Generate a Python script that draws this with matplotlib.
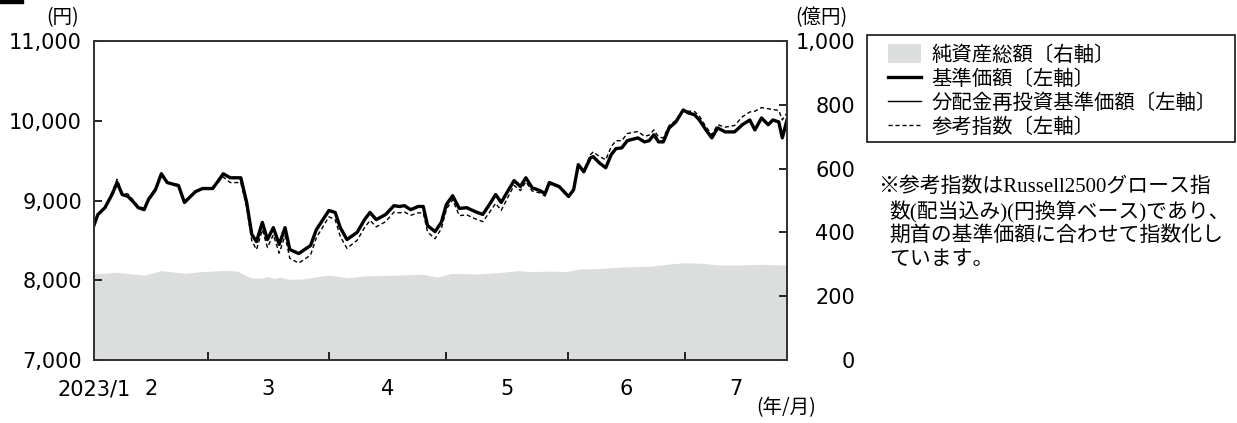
import matplotlib
matplotlib.use('Agg')
import matplotlib.pyplot as plt
from matplotlib.lines import Line2D
from matplotlib.patches import Patch, Rectangle

plt.rcParams['font.family'] = ['Noto Sans CJK JP', 'DejaVu Sans']

W, H = 1237, 423


def fx(x):
    return x / W


def fy(y):
    return 1 - y / H


# 期首(2023/1末)からの経過日数
days = [0, 1.0, 2.8, 4.6, 5.9, 7.2, 8.7, 10.0, 11.3, 12.8,
        13.9, 15.7, 17.2, 18.7, 21.6, 23.1, 25.9, 27.7, 30.3, 32.3,
        33.0, 34.8, 37.5, 39.0, 40.3, 41.5, 43.0, 44.3, 45.8, 47.3,
        48.8, 50.0, 52.3, 55.3, 56.8, 60.0, 61.6, 62.9, 64.6, 67.2,
        69.1, 70.5, 72.1, 74.5, 76.6, 78.0, 79.3, 80.9, 82.8, 84.1,
        85.2, 87.1, 88.7, 90.0, 91.6, 93.3, 95.2, 97.4, 99.3, 101.0,
        102.6, 104.0, 105.6, 107.3, 108.9, 110.3, 111.9, 113.9, 115.2, 116.3,
        118.8, 121.2, 122.5, 123.7, 125.1, 126.8, 127.5, 129.0, 130.7, 132.1,
        133.3, 134.8, 136.2, 138.9, 140.6, 141.8, 143.0, 144.2, 145.4, 146.9,
        148.6, 150.5, 151.7, 153.4, 154.6, 156.3, 157.8, 159.3, 161.2, 163.6,
        165.6, 167.5, 168.8, 170.5, 172.2, 173.4, 174.9, 175.8, 177.0]

# 基準価額(円)
nav = [8690, 8825, 8910, 9075, 9225, 9075, 9050, 8985, 8910, 8885,
       9010, 9135, 9335, 9225, 9185, 8975, 9110, 9150, 9150, 9285,
       9335, 9285, 9285, 8975, 8575, 8485, 8725, 8510, 8660, 8450,
       8660, 8385, 8335, 8435, 8635, 8875, 8850, 8660, 8510, 8600,
       8760, 8850, 8760, 8825, 8935, 8925, 8935, 8885, 8925, 8925,
       8685, 8610, 8725, 8950, 9060, 8900, 8910, 8860, 8825, 8950,
       9075, 8975, 9110, 9250, 9175, 9285, 9160, 9125, 9085, 9225,
       9175, 9050, 9135, 9450, 9360, 9535, 9550, 9475, 9410, 9575,
       9650, 9660, 9750, 9785, 9735, 9750, 9825, 9735, 9735, 9910,
       9985, 10135, 10100, 10075, 10010, 9885, 9785, 9910, 9860, 9860,
       9950, 10010, 9885, 10035, 9950, 10010, 9985, 9785, 10010]

# 分配金再投資基準価額(円) 期中の分配なし
nav_reinv = [8690, 8825, 8910, 9075, 9225, 9075, 9050, 8985, 8910, 8885,
             9010, 9135, 9335, 9225, 9185, 8975, 9110, 9150, 9150, 9285,
             9335, 9285, 9285, 8975, 8575, 8485, 8725, 8510, 8660, 8450,
             8660, 8385, 8335, 8435, 8635, 8875, 8850, 8660, 8510, 8600,
             8760, 8850, 8760, 8825, 8935, 8925, 8935, 8885, 8925, 8925,
             8685, 8610, 8725, 8950, 9060, 8900, 8910, 8860, 8825, 8950,
             9075, 8975, 9110, 9250, 9175, 9285, 9160, 9125, 9085, 9225,
             9175, 9050, 9135, 9450, 9360, 9535, 9550, 9475, 9410, 9575,
             9650, 9660, 9750, 9785, 9735, 9750, 9825, 9735, 9735, 9910,
             9985, 10135, 10100, 10075, 10010, 9885, 9785, 9910, 9860, 9860,
             9950, 10010, 9885, 10035, 9950, 10010, 9985, 9785, 10010]

# 参考指数(円)
ref_index = [8690, 8825, 8920, 9100, 9265, 9100, 9080, 9005, 8925, 8905,
             9030, 9150, 9345, 9225, 9200, 8990, 9120, 9150, 9140, 9265,
             9295, 9225, 9225, 8915, 8495, 8385, 8635, 8410, 8570, 8340,
             8560, 8275, 8215, 8315, 8535, 8795, 8760, 8550, 8400, 8500,
             8660, 8750, 8670, 8735, 8855, 8845, 8855, 8815, 8845, 8845,
             8605, 8520, 8645, 8890, 9010, 8810, 8820, 8770, 8735, 8850,
             8965, 8875, 9030, 9190, 9125, 9235, 9120, 9095, 9055, 9205,
             9165, 9050, 9135, 9450, 9380, 9575, 9610, 9555, 9510, 9675,
             9750, 9750, 9840, 9865, 9805, 9820, 9885, 9795, 9785, 9940,
             10005, 10135, 10120, 10115, 10060, 9925, 9825, 9950, 9920, 9940,
             10050, 10110, 10120, 10165, 10150, 10140, 10130, 10010, 10100]

# 純資産総額(億円)
asset_days = [0, 5.9, 12.8, 17.2, 23.1, 27.7, 33.3, 36.5, 40.0, 42.8,
              44.5, 46.0, 47.8, 49.5, 53.3, 56.8, 60.0, 64.8, 69.6, 76.9,
              83.8, 87.6, 91.1, 98.5, 103.4, 108.3, 111.9, 116.8, 120.5, 123.9,
              129.2, 135.8, 142.3, 146.4, 150.8, 155.2, 159.6, 164.9, 170.5, 174.6,
              177.0]
net_assets = [270, 275, 266, 280, 272, 277, 281, 279, 258, 256,
              261, 256, 260, 253, 254, 261, 266, 258, 264, 266,
              269, 260, 271, 270, 274, 280, 277, 279, 277, 285,
              287, 292, 294, 300, 305, 303, 298, 298, 300, 298,
              299]

month_ticks = [29, 60, 90, 121, 151]
label_pos = [0, 14.5, 44.5, 75, 105.5, 136, 164]
label_txt = ['2023/1', '2', '3', '4', '5', '6', '7']

left_ticks = [7000, 8000, 9000, 10000, 11000]
right_ticks = [0, 200, 400, 600, 800, 1000]

fig = plt.figure(figsize=(W / 100, H / 100), dpi=100)
ax = fig.add_axes([fx(94), fy(360), 693 / W, 319 / H])
ax2 = ax.twinx()

ax2.fill_between(asset_days, net_assets, 0, color='#dcdddd', lw=0)
ax2.set_ylim(0, 1000)

ax.plot(days, nav_reinv, color='black', lw=1.0)
ax.plot(days, ref_index, color='black', lw=1.0, dashes=(3, 2))
ax.plot(days, nav, color='black', lw=2.4)

ax.set_zorder(ax2.get_zorder() + 1)
ax.patch.set_visible(False)

ax.set_xlim(0, 177)
ax.set_ylim(7000, 11000)

num_font = {'family': 'DejaVu Sans', 'size': 15}

ax.set_yticks(left_ticks)
ax.set_yticklabels([f'{v:,}' for v in left_ticks], fontdict=num_font)
ax.tick_params(axis='y', direction='in', length=5.5, width=1.2, pad=8.6)

ax.set_xticks(month_ticks)
ax.set_xticks(label_pos, minor=True)
ax.set_xticklabels(label_txt, minor=True, fontdict=num_font)
ax.tick_params(axis='x', which='major', direction='in', length=5.5, width=1.2,
               labelbottom=False)
ax.tick_params(axis='x', which='minor', length=0, pad=14)

ax2.set_yticks(right_ticks)
ax2.set_yticklabels([f'{v:,}' for v in right_ticks], fontdict=num_font, ha='right')
ax2.tick_params(axis='y', direction='in', length=5.5, width=1.2, pad=49)

for a in (ax, ax2):
    for s in a.spines.values():
        s.set_color('#333333')
        s.set_linewidth(1.3)

fig.text(fx(63), fy(18), '(円)', fontsize=14, ha='center', va='center')
fig.text(fx(821), fy(18), '(億円)', fontsize=14, ha='center', va='center')
fig.text(fx(786), fy(408), '(年/月)', fontsize=14, ha='center', va='center')

handles = [
    Patch(facecolor='#dcdddd', edgecolor='none'),
    Line2D([], [], color='black', lw=2.4),
    Line2D([], [], color='black', lw=1.0),
    Line2D([], [], color='black', lw=1.0, dashes=(3, 2)),
]
labels = ['純資産総額〔右軸〕', '基準価額〔左軸〕', '分配金再投資基準価額〔左軸〕', '参考指数〔左軸〕']
fig.legend(handles, labels, loc='upper left', bbox_to_anchor=(fx(888), fy(44)),
           frameon=False, fontsize=14.7, borderpad=0, borderaxespad=0,
           handlelength=1.6, handleheight=1.08, handletextpad=0.54, labelspacing=0.13)
fig.patches.append(Rectangle((fx(867), fy(142)), (1235 - 867) / W, (142 - 35) / H,
                             transform=fig.transFigure, fill=False,
                             edgecolor='black', lw=1.1))

note_font = ['Liberation Serif', 'Noto Sans CJK JP']
note = [
    (878, 187, '※参考指数はRussell2500グロース指'),
    (889, 212, '数(配当込み)(円換算ベース)であり、'),
    (889, 236, '期首の基準価額に合わせて指数化し'),
    (889, 260, 'ています。'),
]
for x, y, t in note:
    fig.text(fx(x), fy(y), t, fontsize=15, family=note_font, ha='left', va='center')

fig.patches.append(Rectangle((0, fy(3)), 23 / W, 3 / H, transform=fig.transFigure,
                             color='black'))

fig.savefig('out.png', dpi=100)
plt.close(fig)
